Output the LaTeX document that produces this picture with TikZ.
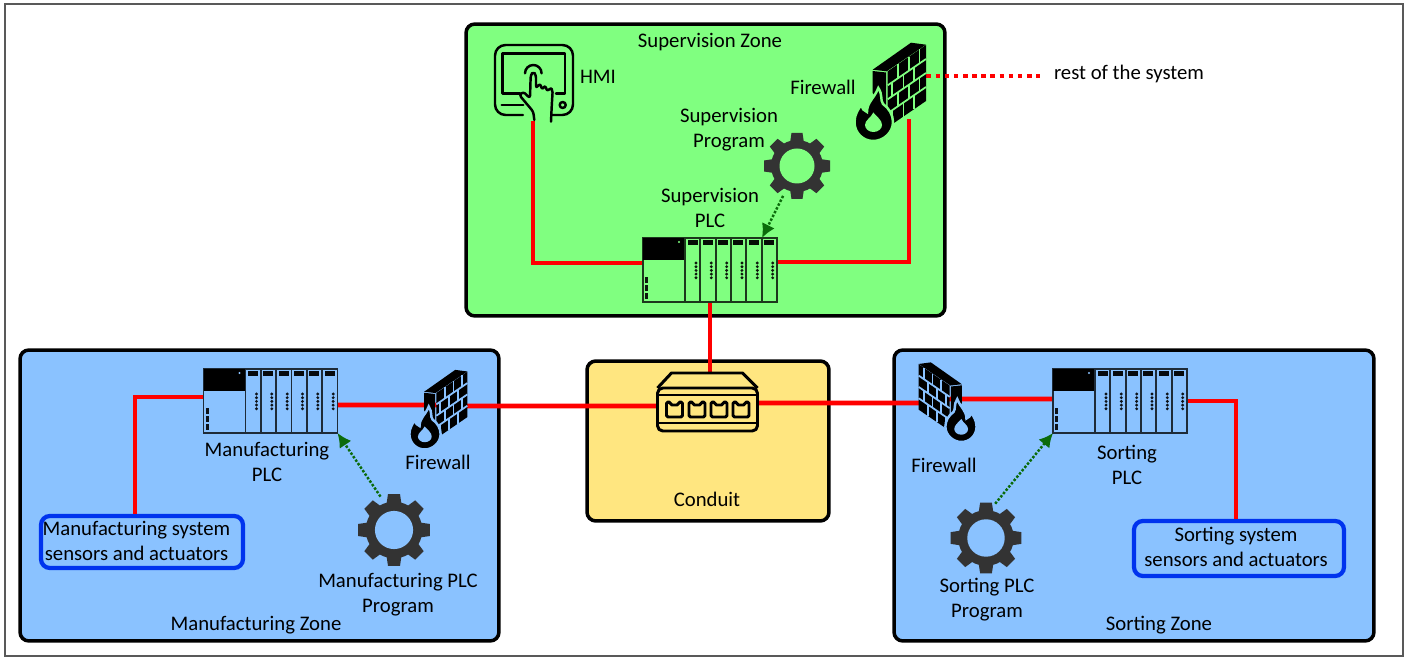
\documentclass[tikz,border=0pt]{standalone}
\usepackage{fontspec}
\setmainfont{Carlito}
\usetikzlibrary{arrows.meta}
\definecolor{supgreen}{HTML}{80FF80}
\definecolor{zoneblue}{HTML}{8AC2FF}
\definecolor{condyellow}{HTML}{FFE680}
\definecolor{linkred}{HTML}{FF0000}
\definecolor{sysblue}{HTML}{0033EE}
\definecolor{progdark}{HTML}{333333}
\definecolor{progarrow}{HTML}{0B6B0B}
\tikzset{
  zone/.style={draw=black, line width=2pt, rounded corners=5pt, inner sep=0pt},
  iconbox/.style={inner sep=0pt, outer sep=0pt},
  sysbox/.style={draw=sysblue, line width=2.4pt, rounded corners=5pt, inner sep=0pt, align=center},
  txt/.style={inner sep=0pt, align=center},
  link/.style={draw=linkred, line width=2.7pt},
  proglink/.style={draw=progarrow, line width=1.4pt, densely dotted, -{Latex[length=8pt,width=8pt,fill=progarrow]}},
  pics/plc/.style={code={
    \draw[#1!22!black, line width=1pt] (-67,-32) rectangle (67,32);
    \fill[black] (-67,-32) rectangle (-25,-10);
    \fill[#1] (-31,-28) circle (1.2);
    \foreach \y in {7,15,23} \fill[#1!10!black] (-65,\y) rectangle (-62,\y+6.5);
    \foreach \i [evaluate=\i as \x using -25+\i*15.33] in {0,...,5} {
      \draw[#1!22!black, line width=1pt] (\x,-32) -- (\x,32);
      \fill[#1!5!black] (\x+2.5,-29.5) rectangle (\x+12.5,-24.5);
      \foreach \y in {-7,-3.3,0.4,4.1,7.8} \fill[#1!10!black] (\x+11,\y) circle (1.6);
    }
  }},
  pics/firewall/.style={code={
    % side and top of the wall
    \fill[black] (-18.3,-21.3) -- (20,-48.3) -- (35,-46.3) -- (-4.3,-19.7) -- cycle;
    \fill[black] (-18.3,-20) -- (-4.8,-18.5) -- (-4.8,20) -- (-18.3,2) -- cycle;
    \begin{scope}[shift={(-3.3,-19.7)}, x={(38.3,-26.3)}, y={(0,56)}]
      \fill[black] (0,0) -- (1,0) -- (1,1) -- (0,1) -- cycle;
      \foreach \v in {.25,.5,.75} \draw[#1, line width=1pt] (0,\v) -- (1,\v);
      \foreach \v/\u in {0/.27,0/.55,0/.83,.5/.27,.5/.55,.5/.83,.25/.12,.25/.41,.25/.69,.75/.12,.75/.41,.75/.69}
        \draw[#1, line width=1pt] (\u,\v) -- (\u,\v+.25);
    \end{scope}
    % flame
    \draw[#1, line width=1.4pt, fill=black] (-12.7,-3) .. controls (-8,4) and (-11,9) .. (-8,13)
      .. controls (-2,17) and (2,24) .. (2,31) .. controls (2,42) and (-8,50) .. (-17.7,50)
      .. controls (-28,50) and (-36.5,42) .. (-36.5,31) .. controls (-36.5,24) and (-33,18) .. (-29.3,13.5)
      .. controls (-29,18) and (-27,20) .. (-24,21) .. controls (-24,11) and (-17,8) .. (-12.7,-3) -- cycle;
    \fill[#1] (-17.7,21.5) .. controls (-14,26) and (-9,29) .. (-9,34) .. controls (-9,38) and (-13,41) .. (-17.7,41)
      .. controls (-22,41) and (-26,38) .. (-26,34) .. controls (-26,29) and (-20,27) .. (-17.7,21.5) -- cycle;
  }},
  pics/gear/.style={code={
    \fill[progdark] (0,0) circle (26);
    \foreach \a in {0,45,...,315}
      \fill[progdark, rotate=\a] (-7,23) -- (-5.5,33) -- (5.5,33) -- (7,23) -- cycle;
    \fill[#1] (0,0) circle (17.5);
  }},
  pics/hmiscreen/.style={code={
    \begin{scope}[line width=1.4pt, line cap=round, line join=round]
      \draw[rounded corners=6pt] (-10,32) -- (-38,32) -- (-38,-38) -- (40,-38) -- (40,32) -- (19,32);
      \draw (-13,10.3) -- (-30.3,10.3) -- (-30.3,-29.7) -- (32,-29.7) -- (32,10.3) -- (23,10.3);
      \draw (-31.3,22) -- (-9.7,22);
      \draw (29.7,22) circle (3);
      \draw (-8,-9.7) arc (180:360:8.3);
      \draw[fill=#1, rounded corners=1.5pt] (1.3,37) -- (0.3,28.7) -- (-13.7,12) -- (-9.7,8.7) -- (-3,15.3) -- (-2.3,-8)
        -- (0.3,-11.3) -- (3,-8) -- (3,5.3) -- (7,0.3) -- (9.3,7) -- (12,2) -- (14.3,8.7) -- (17,4.7) -- (19.7,7)
        -- (18.7,23.7) -- (18,38.7);
    \end{scope}
  }},
  pics/switchbox/.style={code={
    \begin{scope}[line width=1.7pt, line join=round]
      \draw (-50,-14) -- (-36,-29) -- (35,-29) -- (50,-14);
      \draw[rounded corners=3pt] (-50,-14) rectangle (50,29);
      \draw (-50,-7) -- (50,-7);
      \draw (-50,21) -- (50,21);
      \foreach \x in {-33,-10.5,11.5,33.5}
        \draw[xshift=\x*0.02cm, rounded corners=.8pt] (-8,0) -- (-4,0) -- (-4,3) -- (4,3) -- (4,0) -- (8,0) -- (8,15) -- (-8,15) -- cycle;
    \end{scope}
  }},
}
\begin{document}
\begin{tikzpicture}[x=0.02cm, y=-0.02cm, font=\fontsize{11.8}{14.6}\selectfont]
  \useasboundingbox (0,0) rectangle (1411,658);
  \draw[black!65, line width=1pt] (5,4) rectangle (1403,656);

  % zones
  \node[zone, fill=supgreen, minimum width=9.58cm, minimum height=5.84cm] (supzone) at (705.5,170) {};
  \node[zone, fill=zoneblue, minimum width=9.58cm, minimum height=5.82cm] (mfgzone) at (259.5,495.5) {};
  \node[zone, fill=condyellow, minimum width=4.84cm, minimum height=3.2cm] (condzone) at (708,441) {};
  \node[zone, fill=zoneblue, minimum width=9.6cm, minimum height=5.82cm] (srtzone) at (1134,495.5) {};

  % place holders of the icons
  \node[iconbox, minimum width=1.56cm, minimum height=1.52cm] (hmi) at (533,83) {};
  \node[iconbox, minimum width=2.68cm, minimum height=1.28cm] (supplc) at (710,270) {};
  \node[iconbox, minimum width=2.68cm, minimum height=1.28cm] (mfgplc) at (270.5,401) {};
  \node[iconbox, minimum width=2.68cm, minimum height=1.28cm] (srtplc) at (1120,401) {};
  \node[iconbox, minimum width=1.42cm, minimum height=1.94cm] (supfw) at (891,91) {};
  \node[iconbox, minimum width=1.2cm, minimum height=1.48cm] (mfgfw) at (439,409) {};
  \node[iconbox, minimum width=1.2cm, minimum height=1.5cm] (srtfw) at (947,401.5) {};
  \node[iconbox, minimum width=2.02cm, minimum height=1.16cm] (switch) at (707.5,402) {};
  \node[iconbox, circle, minimum size=1.32cm] (supgear) at (797,166) {};
  \node[iconbox, circle, minimum size=1.44cm] (mfggear) at (394,530) {};
  \node[iconbox, circle, minimum size=1.42cm] (srtgear) at (986,538) {};
  \coordinate (restend) at (1040,76);

  % boxes of sensors and actuators
  \node[sysbox, fill=zoneblue, minimum width=4.04cm, minimum height=1.04cm] (mfgsys) at (142,542) {};
  \node[sysbox, fill=zoneblue, minimum width=4.2cm, minimum height=1.1cm] (srtsys) at (1239,548.5) {};

  % network links
  \draw[link] (hmi.south) |- ([yshift=.14cm]supplc.west);
  \draw[link] ([yshift=.16cm]supplc.east) -| ([xshift=.36cm,yshift=.4cm]supfw.south);
  \draw[link, dash pattern=on 2.6pt off 2.6pt] (supfw.east |- restend) -- (restend);
  \draw[link] (supplc.south) -- (supplc.south |- switch.north);
  \draw[link] ([xshift=-.14cm]mfgsys.north) |- ([yshift=.08cm]mfgplc.west);
  \draw[link] ([yshift=-.08cm]mfgplc.east) -- ([yshift=.08cm]mfgfw.center);
  \draw[link] ([yshift=.06cm]mfgfw.center) -- ([yshift=-.08cm]switch.west);
  \draw[link] ([yshift=-.02cm]switch.east) -- ([yshift=-.03cm]srtfw.center);
  \draw[link] ([yshift=.05cm]srtfw.center) -- ([yshift=.04cm]srtplc.west);
  \draw[link] (srtplc.east) -| ([xshift=-.06cm]srtsys.north);

  % icons
  \pic at (hmi) {hmiscreen=supgreen};
  \pic at (supplc) {plc=supgreen};
  \pic at (mfgplc) {plc=zoneblue};
  \pic at (srtplc) {plc=zoneblue};
  \pic at (supfw) {firewall=supgreen};
  \pic[scale=0.81] at (mfgfw) {firewall=zoneblue};
  \pic[xscale=-0.81, yscale=0.81] at (srtfw) {firewall=zoneblue};
  \pic at (switch) {switchbox};
  \pic at (supgear) {gear=supgreen};
  \pic[scale=1.09] at (mfggear) {gear=zoneblue};
  \pic[scale=1.07] at (srtgear) {gear=zoneblue};

  % programs loaded in the PLCs
  \draw[proglink] (supgear.245) -- ([xshift=-.3cm]supplc.north east);
  \draw[proglink] (mfggear.112) -- (mfgplc.south east);
  \draw[proglink] (srtgear.75) -- (srtplc.south west);

  % labels
  \node[txt] (suplabel) at (710,42) {Supervision Zone};
  \node[txt] (hmilabel) at (598,76.5) {HMI};
  \node[txt] (supfwlabel) at (823,87.5) {Firewall};
  \node[txt] (supprog) at (729,129.5) {Supervision\\Program};
  \node[txt] (supplclabel) at (710,208) {Supervision\\PLC};
  \node[txt] (rest) at (1129,74) {rest of the system};
  \node[txt] (condlabel) at (707,499.5) {Conduit};
  \node[txt] (mfgplclabel) at (267,462) {Manufacturing\\PLC};
  \node[txt] (mfgfwlabel) at (438,462.5) {Firewall};
  \node[txt] (mfgprog) at (398,594.5) {Manufacturing PLC\\Program};
  \node[txt] (mfglabel) at (256,625.5) {Manufacturing Zone};
  \node[txt] (mfgsyslabel) at (136.5,541) {Manufacturing system\\sensors and actuators};
  \node[txt] (srtplclabel) at (1127,465) {Sorting\\PLC};
  \node[txt] (srtfwlabel) at (944,465.5) {Firewall};
  \node[txt] (srtprog) at (987,599.5) {Sorting PLC\\Program};
  \node[txt] (srtlabel) at (1159,625.5) {Sorting Zone};
  \node[txt] (srtsyslabel) at (1236,547) {Sorting system\\sensors and actuators};
\end{tikzpicture}
\end{document}
